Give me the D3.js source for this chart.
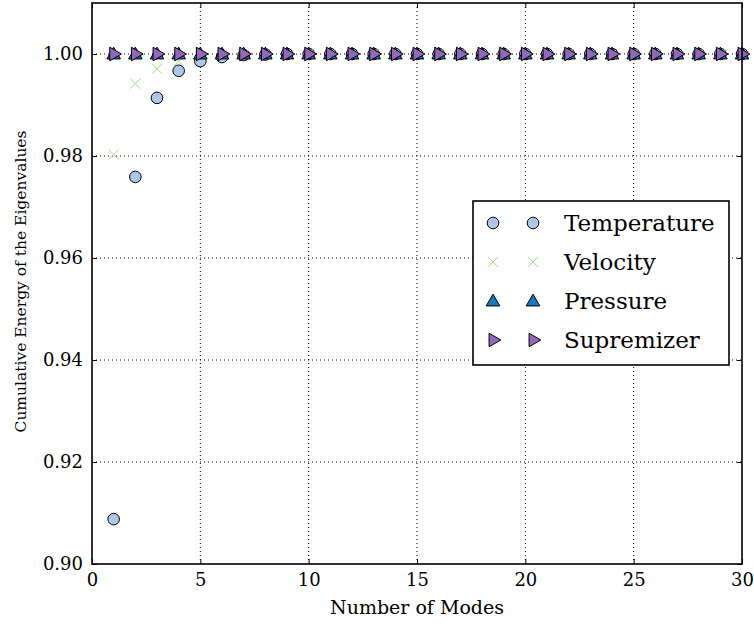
<!DOCTYPE html>
<html>
<head>
<meta charset="utf-8">
<script src="https://cdn.jsdelivr.net/npm/d3@7"></script>
<style>
  body { margin: 0; background: #fff; }
  svg text { font-family: "DejaVu Serif", "Liberation Serif", serif; }
</style>
</head>
<body>
<div class="chart"></div>
<script>
/** data */
let modes = d3.range(1, 31);
let temperature = [0.9088, 0.9759, 0.9914, 0.9967, 0.9986, 0.9994, 0.9998, 0.9999, 1, 1,
                   1, 1, 1, 1, 1, 1, 1, 1, 1, 1, 1, 1, 1, 1, 1, 1, 1, 1, 1, 1];
let velocity = [0.9803, 0.9942, 0.9971, 0.9986, 0.9995, 0.9998, 0.9999, 1, 1, 1,
                1, 1, 1, 1, 1, 1, 1, 1, 1, 1, 1, 1, 1, 1, 1, 1, 1, 1, 1, 1];
let pressure = modes.map(() => 1);
let supremizer = modes.map(() => 1);
let xTicks = [0, 5, 10, 15, 20, 25, 30];
let yTicks = [0.90, 0.92, 0.94, 0.96, 0.98, 1.00];
let seriesNames = ['Temperature', 'Velocity', 'Pressure', 'Supremizer'];

const FONT = '"DejaVu Serif", "Liberation Serif", serif';

/** canvas */
let width = 754, height = 626;
let margin = { top: 3, right: 12, bottom: 62, left: 92 };
let draw_width = width - margin.left - margin.right;
let draw_height = height - margin.top - margin.bottom;

let svg = d3.select('.chart').append('svg')
    .attr('width', width)
    .attr('height', height);

let canvas = svg.append('g')
    .attr('transform', `translate(${margin.left}, ${margin.top})`);

let xScale = d3.scaleLinear().domain([0, 30]).range([0, draw_width]);
let yScale = d3.scaleLinear().domain([0.90, 1.01]).range([draw_height, 0]);

/** grid lines */
canvas.selectAll('.vgrid')
    .data(xTicks.slice(1, -1))
    .enter().append('line')
    .attr('x1', d => xScale(d)).attr('x2', d => xScale(d))
    .attr('y1', 0).attr('y2', draw_height)
    .attr('stroke', '#000').attr('stroke-width', 1)
    .attr('stroke-dasharray', '1,3');
canvas.selectAll('.hgrid')
    .data(yTicks.slice(1))
    .enter().append('line')
    .attr('x1', 0).attr('x2', draw_width)
    .attr('y1', d => yScale(d)).attr('y2', d => yScale(d))
    .attr('stroke', '#000').attr('stroke-width', 1)
    .attr('stroke-dasharray', '1,3');

/** axes, ticks pointing inward like matplotlib classic */
let xAxis = d3.axisBottom(xScale).tickValues(xTicks).tickSize(-5).tickPadding(9)
    .tickFormat(d3.format('d'));
let yAxis = d3.axisLeft(yScale).tickValues(yTicks).tickSize(-5).tickPadding(9)
    .tickFormat(d3.format('.2f'));

let gx = canvas.append('g')
    .attr('transform', `translate(0, ${draw_height})`)
    .call(xAxis);
let gy = canvas.append('g').call(yAxis);
canvas.append('g').call(d3.axisTop(xScale).tickValues(xTicks).tickSize(-5).tickFormat(''));
canvas.append('g').attr('transform', `translate(${draw_width}, 0)`)
    .call(d3.axisRight(yScale).tickValues(yTicks).tickSize(-5).tickFormat(''));

svg.selectAll('.domain').remove();
svg.selectAll('.tick line').attr('stroke', '#000');
svg.selectAll('g').attr('font-family', null);
[gx, gy].forEach(g => g.selectAll('text')
    .style('font-size', '18px')
    .style('font-family', FONT)
    .attr('fill', '#000'));

/** markers */
let triPath = d3.symbol().type(d3.symbolTriangle).size(80)();

function drawCircle(g, x, y) {
    g.append('circle').attr('cx', x).attr('cy', y).attr('r', 5.8)
        .attr('fill', '#aec7e8').attr('stroke', '#000').attr('stroke-width', 1);
}
function drawCross(g, x, y) {
    let s = 5;
    g.append('path')
        .attr('d', `M${x - s},${y - s}L${x + s},${y + s}M${x - s},${y + s}L${x + s},${y - s}`)
        .attr('stroke', '#98df8a').attr('stroke-width', 1).attr('fill', 'none');
}
function drawUp(g, x, y) {
    g.append('path').attr('d', triPath)
        .attr('transform', `translate(${x}, ${y + 1})`)
        .attr('fill', '#1f77b4').attr('stroke', '#000').attr('stroke-width', 1);
}
function drawRight(g, x, y) {
    g.append('path').attr('d', triPath)
        .attr('transform', `translate(${x}, ${y}) rotate(90)`)
        .attr('fill', '#9467bd').attr('stroke', '#000').attr('stroke-width', 1);
}

let marks = canvas.append('g');
modes.forEach((m, i) => drawCircle(marks, xScale(m), yScale(temperature[i])));
modes.forEach((m, i) => drawCross(marks, xScale(m), yScale(velocity[i])));
modes.forEach((m, i) => drawUp(marks, xScale(m), yScale(pressure[i])));
modes.forEach((m, i) => drawRight(marks, xScale(m), yScale(supremizer[i])));

/** frame */
canvas.append('rect')
    .attr('width', draw_width).attr('height', draw_height)
    .attr('fill', 'none').attr('stroke', '#000').attr('stroke-width', 1.6);

/** axis labels */
svg.append('text')
    .attr('x', margin.left + draw_width / 2).attr('y', 614)
    .attr('text-anchor', 'middle')
    .style('font-size', '19px')
    .text('Number of Modes');
svg.append('text')
    .attr('transform', `translate(26, ${margin.top + draw_height / 2 - 2}) rotate(-90)`)
    .attr('text-anchor', 'middle')
    .style('font-size', '15.5px')
    .text('Cumulative Energy of the Eigenvalues');

/** legend */
let legend = svg.append('g').attr('transform', 'translate(473, 201)');
legend.append('rect')
    .attr('width', 256).attr('height', 164)
    .attr('fill', '#fff').attr('stroke', '#000').attr('stroke-width', 1.6);
let drawers = [drawCircle, drawCross, drawUp, drawRight];
seriesNames.forEach((name, i) => {
    let y = 22 + i * 39;
    drawers[i](legend, 20, y);
    drawers[i](legend, 60, y);
    legend.append('text')
        .attr('x', 91).attr('y', y + 8)
        .style('font-size', '23px')
        .text(name);
});
</script>
</body>
</html>
